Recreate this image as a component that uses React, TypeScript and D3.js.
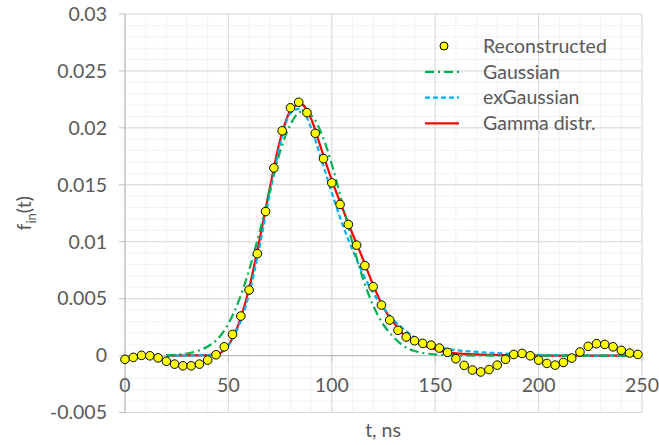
import React from 'react';
import * as d3 from 'd3';

// reconstructed points, every 4 ns
const tRecon = [0, 4, 8, 12, 16, 20, 24, 28, 32, 36, 40, 44, 48, 52, 56, 60, 64, 68, 72, 76, 80, 84, 88, 92, 96, 100,
  104, 108, 112, 116, 120, 124, 128, 132, 136, 140, 144, 148, 152, 156, 160, 164, 168, 172, 176, 180, 184, 188, 192,
  196, 200, 204, 208, 212, 216, 220, 224, 228, 232, 236, 240, 244, 248];
const reconstructed = [-0.00033, -0.00016, 0.00002, -0.00002, -0.0002, -0.0005, -0.00075, -0.0009, -0.0009, -0.00075,
  -0.0004, 0.00007, 0.00077, 0.00186, 0.00347, 0.00576, 0.00895, 0.01265, 0.01648, 0.01974, 0.02176, 0.02225, 0.02134,
  0.01952, 0.0173, 0.01517, 0.01327, 0.01151, 0.0097, 0.0079, 0.00605, 0.00444, 0.00312, 0.00222, 0.00163, 0.0013,
  0.00107, 0.00092, 0.00066, 0.00028, -0.00028, -0.00086, -0.00127, -0.00144, -0.00123, -0.00084, -0.00033, 0.0001,
  0.00019, -0.00002, -0.0004, -0.00069, -0.00084, -0.0006, -0.00022, 0.00031, 0.00081, 0.00104, 0.00098, 0.00077,
  0.00046, 0.00022, 0.0001];

// fitted curves
const tFit = [20, 25, 30, 35, 40, 45, 50, 55, 60, 65, 70, 75, 80, 85, 90, 95, 100, 105, 110, 115, 120, 125, 130, 135,
  140, 145, 150, 155, 160, 170, 180, 190, 200, 210, 220, 230, 240, 250];
const gaussian = [0.00002, 0.00008, 0.00018, 0.0004, 0.0008, 0.0015, 0.0028, 0.0048, 0.0075, 0.0108, 0.0145, 0.0179,
  0.0203, 0.0214, 0.0211, 0.0195, 0.0168, 0.0134, 0.0099, 0.0068, 0.0044, 0.0027, 0.0016, 0.0008, 0.0004, 0.0002,
  0.0001, 0.00004, 0.00002, 0, 0, 0, 0, 0, 0, 0, 0, 0];
const exGaussian = [0, 0, 0, 0.00001, 0.00004, 0.0002, 0.0009, 0.0026, 0.0054, 0.0095, 0.0142, 0.0185, 0.0213, 0.0217,
  0.02, 0.0172, 0.0143, 0.0116, 0.0093, 0.0072, 0.0055, 0.0042, 0.0031, 0.0023, 0.0016, 0.0011, 0.0008, 0.0006,
  0.00048, 0.00032, 0.00022, 0.00012, 0.00006, 0.00003, 0.00001, 0, 0, 0];
const gamma = [0, 0, 0.00001, 0.00002, 0.00005, 0.00018, 0.0009, 0.0028, 0.0059, 0.0101, 0.0147, 0.0189, 0.0215,
  0.0221, 0.0208, 0.0181, 0.0154, 0.013, 0.0107, 0.0085, 0.0062, 0.0042, 0.0029, 0.0018, 0.0013, 0.00085, 0.00055,
  0.0003, 0.0002, 0.0001, 0.00005, 0.00002, 0, 0, 0, 0, 0, 0];

const xTicks = [0, 50, 100, 150, 200, 250];
const yTicks = [-0.005, 0, 0.005, 0.01, 0.015, 0.02, 0.025, 0.03];
const yTickLabels = ['-0.005', '0', '0.005', '0.01', '0.015', '0.02', '0.025', '0.03'];

const legendItems = ['Reconstructed', 'Gaussian', 'exGaussian', 'Gamma distr.'];

const W = 659, H = 445;
const FONT = 'Lato, "Open Sans", sans-serif';
const TXT = '#595959';
const FS = 19.5;

export default function App() {
  const x = d3.scaleLinear().domain([0, 250]).range([125, 642]);
  const y = d3.scaleLinear().domain([-0.005, 0.03]).range([412.5, 14]);

  const minorX = d3.range(0, 251, 10);
  const minorY = d3.range(-5, 31, 1).map(v => v / 1000);

  const line = (vals: number[]) =>
    d3.line<number>()
      .x((_, i) => x(tFit[i]))
      .y(d => y(d))
      .curve(d3.curveMonotoneX)(vals) || '';

  const styles = [
    { color: '#00B050', dash: '9,4,2,4' },
    { color: '#00B0F0', dash: '5,3' },
    { color: '#FF0000', dash: '' },
  ];

  return (
    <svg width={W} height={H} style={{ position: 'absolute', left: 0, top: 0, background: '#fff' }}
      fontFamily={FONT}>
      {/* minor grid */}
      {minorX.map(t => (
        <line key={'mx' + t} x1={x(t)} x2={x(t)} y1={y(0.03)} y2={y(-0.005)} stroke="#F2F2F2" />
      ))}
      {minorY.map(v => (
        <line key={'my' + v} x1={x(0)} x2={x(250)} y1={y(v)} y2={y(v)} stroke="#F2F2F2" />
      ))}
      {/* major grid */}
      {xTicks.map(t => (
        <line key={'gx' + t} x1={x(t)} x2={x(t)} y1={y(0.03)} y2={y(-0.005)} stroke="#D9D9D9" />
      ))}
      {yTicks.map(v => (
        <line key={'gy' + v} x1={x(0)} x2={x(250)} y1={y(v)} y2={y(v)} stroke="#D9D9D9" />
      ))}

      {/* axes */}
      <line x1={x(0)} x2={x(0)} y1={y(0.03)} y2={y(-0.005)} stroke="#BFBFBF" strokeWidth={1.2} />
      <line x1={x(0)} x2={x(250)} y1={y(0)} y2={y(0)} stroke="#BFBFBF" strokeWidth={1.2} />
      {yTicks.map(v => (
        <line key={'ty' + v} x1={x(0) - 6} x2={x(0)} y1={y(v)} y2={y(v)} stroke="#BFBFBF" />
      ))}
      {xTicks.map(t => (
        <line key={'tx' + t} x1={x(t)} x2={x(t)} y1={y(0)} y2={y(0) + 6} stroke="#BFBFBF" />
      ))}

      {/* tick labels */}
      {yTicks.map((v, i) => (
        <text key={'ly' + v} x={107} y={y(v)} dy="0.35em" textAnchor="end" fontSize={FS} fill={TXT}>
          {yTickLabels[i]}
        </text>
      ))}
      {xTicks.map(t => (
        <text key={'lx' + t} x={x(t)} y={385} dy="0.35em" textAnchor="middle" fontSize={FS} fill={TXT}>
          {t}
        </text>
      ))}

      {/* axis titles */}
      <text x={383} y={430} dy="0.35em" textAnchor="middle" fontSize={FS} fill={TXT}>t, ns</text>
      <text transform={`translate(24,${y(0.0125)}) rotate(-90)`} textAnchor="middle" dy="0.35em" fontSize={FS}
        fill={TXT}>
        f<tspan fontSize={13} dy={5}>in</tspan><tspan dy={-5}>(t)</tspan>
      </text>

      {/* fitted curves */}
      <path d={line(gamma)} fill="none" stroke={styles[2].color} strokeWidth={2.2} />
      <path d={line(exGaussian)} fill="none" stroke={styles[1].color} strokeWidth={2.2}
        strokeDasharray={styles[1].dash} />
      <path d={line(gaussian)} fill="none" stroke={styles[0].color} strokeWidth={2.2}
        strokeDasharray={styles[0].dash} />

      {/* reconstructed points */}
      {reconstructed.map((v, i) => (
        <circle key={'p' + i} cx={x(tRecon[i])} cy={y(v)} r={4.3} fill="#FFFF00" stroke="#000" strokeWidth={1} />
      ))}

      {/* legend */}
      {legendItems.map((name, i) => {
        const ly = 46 + i * 25.8;
        return (
          <g key={name}>
            {i === 0 ? (
              <circle cx={444} cy={ly} r={4} fill="#FFFF00" stroke="#000" strokeWidth={1} />
            ) : (
              <line x1={425} x2={459} y1={ly} y2={ly} stroke={styles[i - 1].color} strokeWidth={2.2}
                strokeDasharray={styles[i - 1].dash} />
            )}
            <text x={483} y={ly} dy="0.35em" fontSize={FS} fill={TXT}>{name}</text>
          </g>
        );
      })}
    </svg>
  );
}
